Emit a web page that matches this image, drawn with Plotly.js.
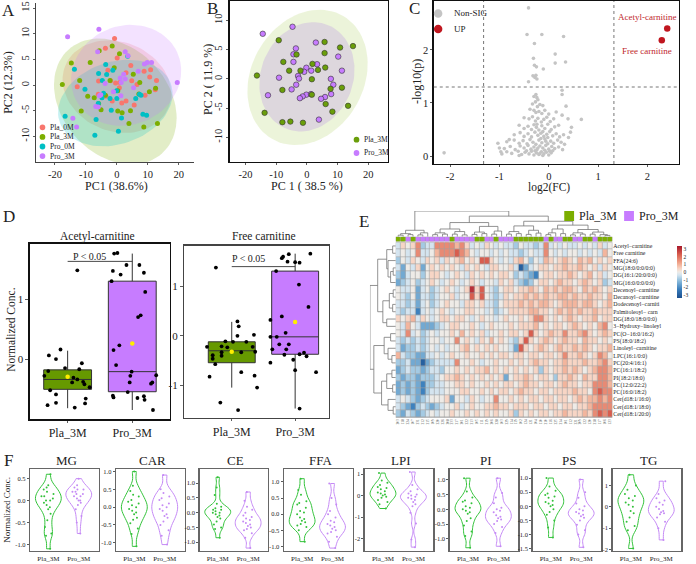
<!DOCTYPE html>
<html><head><meta charset="utf-8">
<script src="https://cdn.plot.ly/plotly-3.0.1.min.js"></script>
<style>html,body{margin:0;padding:0;background:#fff}#chart{width:696px;height:564px}</style>
</head><body><div id="chart"></div>
<script>
// ================= DATA =================
// Panel A: PCA scores (PC1, PC2) per group
const groupsA = ['Pla_0M','Pla_3M','Pro_0M','Pro_3M'];
const pla0M_pc1 = [-0.74,-3.7,0.1,4.5,-2.9,2.96,10.9,8.8,-5.9,-2.0,-0.4,0.95,4.8,6.5,10.6,12.8,-12.8,0.8,-6.0,-3.5,9.1,12.4,1.6,-1.5,5.6,2.96];
const pla0M_pc2 = [9.1,7.2,5.3,3.8,2.9,2.4,3.0,2.7,0.8,0.85,0.4,0.5,0.85,0.1,1.55,0.9,-0.35,-0.5,-1.8,-2.2,-2.0,-0.9,-3.5,-3.1,-3.9,-3.1];
const pla3M_pc1 = [-1.5,-5.7,-14.7,-8.6,-0.85,5.3,-17.6,-12.0,-2.2,7.4,0.3,-9.4,-7.3,-3.7,10.5,12.5,-11.5,-5.1,0.3,1.7,4.4,-5.9,8.7,3.9,13.1,7.1,0.85];
const pla3M_pc2 = [7.6,6.7,4.3,4.4,3.4,2.1,0.1,0.9,0.9,0.5,-1.1,-2.2,-2.45,-2.0,-1.3,-0.6,-5.05,-4.8,-5.05,-5.4,-5.0,-3.6,-8.2,-7.5,-7.5,-1.75,6.1];
const pro0M_pc1 = [3.5,-3.6,-13.7,-5.9,-3.3,-1.3,-4.7,-10.3,-4.3,-4.8,-2.2,0.0,7.3,7.8,6.1,-6.0,-1.8,1.5,-6.7,8.4,9.6,-16.7,0.5,-7.1,-0.1];
const pro0M_pc2 = [5.6,4.0,3.1,2.25,2.05,2.9,0.9,-0.8,-1.6,-2.45,-2.6,-2.6,-1.8,-2.0,-2.6,-3.6,-4.9,-6.4,-6.7,-5.7,-5.9,-6.1,-9.0,-9.8,-1.1];
const pro3M_pc1 = [-5.8,-15.9,-6.2,2.7,3.6,8.9,9.8,11.2,6.9,2.2,-3.8,1.4,2.7,1.1,19.5,-5.6,-5.2,-6.8,-6.0,1.3,-14.2,-13.0,5.4,-1.1];
const pro3M_pc2 = [10.9,9.4,6.5,6.5,5.7,4.1,4.4,4.4,2.7,2.1,0.3,0.5,1.2,1.4,0.5,-2.1,-1.9,-4.2,-4.3,-2.1,-6.45,-8.2,-0.5,-1.3];
// confidence ellipses (centre, semi-axes, tilt in degrees)
const ellA_cx = [0.0,-0.5,-0.5,3.0];
const ellA_cy = [-0.3,-3.2,-3.5,1.9];
const ellA_a  = [17.6,20.2,18.6,17.8];
const ellA_b  = [8.9,11.6,8.2,9.8];
const ellA_ang= [-6,-14,7,4];

// Panel B
const plaB_pc1 = [-9.2,5.75,10.8,15.0,5.75,-3.4,-7.7,1.8,-5.8,-2.1,3.6,5.97,-16.3,1.6,7.7,11.4,-8.0,6.1,13.4,-13.8,8.3,-8.0,-5.4,-1.3,1.6];
const plaB_pc2 = [6.6,6.3,5.35,5.6,4.4,4.16,2.9,2.56,1.4,1.4,1.53,1.93,0.57,-0.06,-1.7,-1.5,-1.9,-4.3,-4.6,-5.8,-5.6,-7.4,-7.3,-7.5,-2.7];
const proB_pc1 = [-14.4,-4.7,2.9,-3.6,-4.4,-4.4,10.2,-0.2,-0.9,3.3,1.4,-2.9,-2.6,-9.1,11.4,7.8,8.6,-3.5,-5.0,7.9,5.9,4.6,-0.2,1.3,-1.4,-2.3,-12.7,3.9];
const proB_pc2 = [7.7,8.9,6.2,5.2,4.2,2.9,3.8,1.9,1.2,2.5,1.4,0.5,0.05,0.2,1.4,0.0,-1.0,-1.0,-1.8,-2.6,-3.1,-3.4,-2.7,-2.6,-3.0,-3.3,-2.8,-6.96];
const ellB_cx = [0.2,0.0];
const ellB_cy = [0.25,0.35];
const ellB_a  = [19.8,15.6];
const ellB_b  = [11.2,9.2];
const ellB_ang= [10,7];

// Panel C: volcano
const nsX = [-0.41,-0.44,-0.14,0.30,-0.29,0.13,-0.31,0.13,0.34,-0.29,
 -0.25,-0.11,-0.32,-0.28,-0.24,-0.41,-0.26,-2.12,0.27,0.27,
 -0.26,-0.24,0.35,0.27,0.39,0.66,0.46,-1.03,-0.97,-0.80,
 -1.00,0.44,0.40,-0.30,-0.22,-0.27,-0.33,-0.18,-0.23,-0.12,
 -0.38,-0.30,-0.26,-0.20,-0.14,-0.08,0.00,0.15,-0.50,-0.40,
 -0.33,-0.27,-0.22,-0.15,-0.10,-0.04,0.03,0.10,-0.60,-0.50,
 -0.42,-0.35,-0.30,-0.25,-0.20,-0.14,-0.08,-0.02,0.05,0.12,
 0.20,-0.70,-0.58,-0.50,-0.42,-0.35,-0.28,-0.22,-0.16,-0.10,
 -0.04,0.02,0.08,0.15,0.22,0.30,-0.85,-0.70,-0.60,-0.52,
 -0.44,-0.38,-0.32,-0.26,-0.20,-0.14,-0.08,-0.02,0.04,0.10,
 0.18,0.25,0.32,-0.90,-0.78,-0.68,-0.58,-0.50,-0.42,-0.36,
 -0.30,-0.24,-0.18,-0.12,-0.06,0.00,0.06,0.12,0.20,0.28,
 -0.95,-0.85,-0.75,-0.62,-0.55,-0.48,-0.40,-0.35,-0.30,-0.25,
 -0.20,-0.15,-0.10,-0.05,0.00,0.05,0.08,-0.60,-0.45,-0.28,
 -0.12,0.02,-0.18,-0.08,-0.22,-0.16,-0.06,-0.12,-0.02,-0.24];
const nsY = [2.79,2.29,2.29,2.25,2.12,1.92,1.84,1.75,1.77,1.71,
 1.68,1.64,1.51,1.48,1.45,1.40,1.52,0.06,1.24,1.16,
 1.16,1.10,0.94,0.77,0.70,0.69,0.54,0.24,0.08,0.31,
 0.15,0.45,0.35,1.12,1.06,1.02,0.98,0.97,0.93,0.95,
 0.88,0.86,0.82,0.84,0.80,0.86,0.79,0.83,0.72,0.70,
 0.74,0.66,0.71,0.64,0.69,0.73,0.65,0.70,0.58,0.52,
 0.56,0.50,0.59,0.54,0.49,0.57,0.52,0.60,0.50,0.55,
 0.58,0.40,0.44,0.37,0.42,0.36,0.45,0.39,0.43,0.37,
 0.41,0.46,0.38,0.42,0.36,0.40,0.27,0.30,0.24,0.29,
 0.23,0.31,0.26,0.22,0.30,0.25,0.32,0.23,0.28,0.24,
 0.30,0.26,0.22,0.14,0.18,0.12,0.19,0.15,0.20,0.13,
 0.17,0.12,0.19,0.15,0.20,0.13,0.18,0.14,0.17,0.12,
 0.04,0.08,0.05,0.09,0.03,0.07,0.04,0.09,0.02,0.06,
 0.03,0.08,0.04,0.07,0.02,0.06,0.10,0.01,0.10,0.10,
 0.01,0.09,0.05,0.11,0.15,0.33,0.28,0.46,0.35,0.60];
const upNames = ['Acetyl-carnitine','Free carnitine'];
const upX = [2.40,2.29];
const upY = [2.40,2.18];
const fcCut = 1.32, pCut = 1.30;

// Panel D: boxplots
const boxGroups = ['Pla_3M','Pro_3M'];
const acQ1 = [-0.505,-0.545], acMed = [-0.34,-0.21], acQ3 = [-0.18,1.30], acLo = [-0.82,-0.85], acHi = [0.14,1.76], acMean = [-0.295,0.26];
const fcQ1 = [-0.54,-0.37], fcMed = [-0.30,-0.02], fcQ3 = [-0.12,1.30], fcLo = [-1.04,-1.46], fcHi = [0.28,1.65], fcMean = [-0.32,0.28];
const acPlaY = [1.48,0.16,0.06,0.0,-0.07,-0.17,-0.28,-0.2,-0.31,-0.34,-0.39,-0.38,-0.47,-0.52,-0.59,-0.77,-0.73,-0.81,-0.66,-0.74,-0.42,-0.15];
const acPlaJit = [0.15,-0.11,-0.29,-0.18,0.22,0.18,-0.36,-0.30,0.09,0.15,0.07,0.24,0.34,-0.27,-0.18,-0.31,-0.18,0.11,0.28,0.27,0.26,-0.04];
const acProY = [1.76,1.77,1.57,1.57,1.47,1.41,1.44,1.3,1.12,0.73,0.70,0.23,0.15,-0.1,-0.21,-0.28,-0.27,-0.39,-0.39,-0.41,-0.55,-0.61,-0.64,-0.65,-0.62,-0.68,-0.85];
const acProJit = [-0.28,-0.23,-0.09,0.11,-0.30,-0.18,0.18,-0.32,0.2,0.13,0.09,-0.20,-0.29,-0.25,-0.01,-0.03,0.37,-0.04,0.31,0.29,-0.07,-0.30,-0.29,0.08,0.18,0.19,0.32];
const fcPlaY = [1.37,0.29,0.19,0.0,0.02,-0.22,-0.21,-0.11,-0.12,-0.23,-0.12,-0.33,-0.33,-0.39,-0.4,-0.46,-0.57,-0.32,-0.82,-0.73,-0.8,-1.04,-1.34,-1.49,-0.22];
const fcPlaJit = [-0.25,0.09,0.11,0.09,0.35,-0.39,-0.16,-0.1,0.23,-0.07,0.02,0.15,-0.16,-0.3,-0.16,-0.30,-0.26,0.37,-0.35,0.15,0.36,0.40,-0.18,0.10,0.33];
const fcProY = [1.56,1.59,1.64,1.49,1.48,1.47,1.65,1.3,1.03,0.58,0.32,0.39,0.06,-0.02,-0.02,-0.17,-0.17,-0.27,-0.27,-0.38,-0.37,-0.34,-0.41,-0.48,-0.54,-0.69,-0.73,-1.46];
const fcProJit = [-0.21,-0.19,-0.1,-0.12,0,0.07,0.24,-0.3,0.06,0.21,-0.39,-0.21,-0.15,-0.39,-0.29,-0.25,-0.1,-0.36,-0.14,-0.17,0.07,0.14,0.18,-0.03,-0.39,0,0.33,0.07];
const acBracket = 1.63, fcBracket = 1.39;

// Panel E: heatmap
const rowNames = ['Acetyl−carnitine','Free carnitine','FFA(24:6)','MG(18:0/0:0/0:0)','DG(16:1/20:0/0:0)','MG(16:0/0:0/0:0)',
 'Decenoyl−carnitine','Decanoyl−carnitine','Dodecenoyl−carniti','Palmitoleoyl− carn','DG(18:0/18:0/0:0)','3−Hydroxy−linoleyl',
 'PC(O−16:0/16:2)','PS(18:0/18:2)','Linoleyl−carnitine','LPC(16:1/0:0)','PC(20:4/16:1)','PC(16:1/18:2)',
 'PI(18:2/18:0)','PC(12:0/22:2)','PC(16:0/18:2)','Cer(d18:1/16:0)','Cer(d18:1/18:0)','Cer(d18:1/20:0)'];
const colIds = ['203','118','224','107','231','212','215','109','220','226','208','233','217','201','222','213','105','111','219','206','228','103','229','114','119','102','124','121','104','110','210','116','225','214','101','112','221','209','122','120','218','117','106','123'];
const colGroup = 'GGPGPPPPPPPGPPPPGGPPGPPPGGGGGGPGPPGGPPGGPGGG';
const levelValue = {'0':-3,'1':-2.2,'2':-1.5,'3':-0.9,'4':-0.4,'5':0,'6':0.45,'7':0.95,'8':1.6,'9':2.3,'A':3};
const heatRows = [
 '46568344888 87864546545 44354434845 45445454645',
 '45458445788 89875455454 54434544854 54554545475',
 '35465465646 56756599654 54675354765 67657675656',
 '42546256565 65465654665 56402456656 67667656465',
 '32455356654 56546565656 65343215665 66765675645',
 '23453456545 65456545546 56432356656 76656765634',
 '54452453456 5456A695435 66566765767 67765767656',
 '54352443455 64559695434 65667676766 77676676657',
 '44342453456 55466564435 66676767765 67776776567',
 '43441454565 45566554534 56666776656 76767667666',
 '65674654566 56654565545 65565688656 56765667566',
 '54754222345 66556545655 56566675656 65676565785',
 '54845345455 65756564556 56656965676 68667865676',
 '43434345545 58565465756 54369656765 67665766565',
 '42334345454 55675656565 54296567656 76676765667',
 '74332244545 65565565656 65665665665 68667656875',
 '33422023444 48556545565 56565676656 67666766786',
 '23433234435 56565667565 65656563656 67676567887',
 '32332333456 67656565656 25667656653 66765766887',
 '23232133445 56656556565 66567665665 67665668887',
 '23232134445 55665565656 65676656656 66676658988',
 '45432345556 25546545585 56565665665 66567677878',
 '43213432345 56456556676 65666566566 56656678888',
 '32432345455 65565656565 56365656656 67666768989'];
// dendrograms: [height, left, right], leaves are column / row indices
const colTree = [1.0,
  [0.25,[0.12,[0.06,0,1],[0.08,2,3]],[0.15,[0.07,4,5],6]],
  [0.8,
    [0.55,[0.3,[0.15,[0.08,7,8],[0.1,9,10]],[0.2,[0.1,11,12],[0.07,13,14]]],
          [0.4,[0.18,[0.09,15,16],[0.12,17,18]],[0.22,[0.1,19,20],21]]],
    [0.6,[0.42,[0.2,[0.1,22,23],[0.12,24,25]],[0.25,[0.09,26,27],[0.14,28,29]]],
         [0.45,[0.3,[0.15,[0.08,30,31],32],[0.12,33,34]],
               [0.28,[0.15,[0.07,35,36],[0.1,37,38]],[0.18,[0.1,39,40],[0.08,41,[0.05,42,43]]]]]]]];
const rowTree = [1.0,
  [0.7,[0.35,[0.12,0,1],[0.3,2,[0.2,[0.1,3,4],5]]],[0.5,[0.25,[0.1,6,7],[0.12,8,9]],[0.35,10,11]]],
  [0.85,[0.45,[0.2,12,13],[0.3,14,[0.15,15,16]]],[0.55,[0.35,[0.15,17,18],[0.12,19,20]],[0.3,21,[0.1,22,23]]]]];

// Panel F: violins
const classes = ['MG','CAR','CE','FFA','LPI','PI','PS','TG'];
const mgPla = [0.6,0.35,0.3,0.25,0.2,0.15,0.1,0.1,0.05,0.0,0.0,-0.05,-0.1,-0.15,-0.2,-0.3,-0.45,-0.6,-0.75,-0.8,-1.1];
const mgPro = [0.5,0.35,0.3,0.25,0.25,0.2,0.2,0.15,0.15,0.1,0.1,0.05,0.0,0.0,-0.05,-0.1,-0.2,-0.35,-0.5,-0.75];
const carPla = [1.0,0.6,0.45,0.35,0.3,0.2,0.15,0.1,0.05,0.0,-0.05,-0.1,-0.15,-0.2,-0.3,-0.35,-0.45,-0.6,-0.75,-1.1];
const carPro = [0.9,0.5,0.4,0.3,0.25,0.2,0.1,0.05,0.0,-0.05,-0.1,-0.2,-0.25,-0.3,-0.4,-0.5,-0.65,-0.8,-1.05];
const cePla = [1.2,0.85,0.6,0.3,0.2,0.15,0.1,0.1,0.05,0.0,0.0,-0.05,-0.1,-0.15,-0.2,-0.3,-0.4,-0.5,-0.55,-0.85];
const cePro = [0.7,0.4,0.2,0.1,0.0,-0.1,-0.15,-0.2,-0.25,-0.3,-0.35,-0.4,-0.45,-0.5,-0.55,-0.6,-0.7,-0.85,-1.2];
const ffaPla = [1.1,0.75,0.6,0.4,0.35,0.3,0.2,0.1,0.05,0.0,-0.1,-0.15,-0.2,-0.25,-0.3,-0.35,-0.4,-0.5,-0.85];
const ffaPro = [0.95,0.5,0.3,0.1,0.0,-0.1,-0.2,-0.25,-0.3,-0.35,-0.4,-0.45,-0.5,-0.55,-0.6,-0.7,-0.85,-1.05];
const lpiPla = [1.05,0.7,0.6,0.5,0.4,0.35,0.3,0.2,0.15,0.1,0.05,0.0,-0.05,-0.1,-0.2,-0.3,-0.4,-0.6];
const lpiPro = [1.1,0.5,0.3,0.2,0.1,0.05,0.0,-0.05,-0.1,-0.15,-0.2,-0.3,-0.4,-0.5,-0.8,-1.3,-2.05,-2.4];
const piPla = [1.05,0.6,0.4,0.3,0.25,0.2,0.1,0.05,0.0,-0.05,-0.1,-0.15,-0.3,-0.4,-0.55,-0.75,-0.9,-1.3];
const piPro = [1.05,0.55,0.4,0.2,0.05,0.0,-0.05,-0.1,-0.2,-0.25,-0.3,-0.35,-0.4,-0.5,-0.6,-0.8,-1.25];
const psPla = [1.0,0.7,0.55,0.45,0.4,0.35,0.3,0.2,0.15,0.1,0.05,0.0,-0.1,-0.2,-0.3,-0.5,-0.75,-1.1];
const psPro = [0.95,0.5,0.3,0.1,0.0,-0.1,-0.15,-0.2,-0.25,-0.3,-0.35,-0.4,-0.5,-0.65,-0.85,-1.0,-1.45];
const tgPla = [1.5,1.0,0.8,0.6,0.5,0.4,0.3,0.2,0.1,0.0,-0.2,-0.3,-0.5,-0.7,-0.9,-1.1,-1.95];
const tgPro = [1.2,0.6,0.4,0.3,0.2,0.1,0.0,-0.1,-0.2,-0.25,-0.3,-0.35,-0.5,-0.7,-1.0,-1.55];
const vPla = [mgPla,carPla,cePla,ffaPla,lpiPla,piPla,psPla,tgPla];
const vPro = [mgPro,carPro,cePro,ffaPro,lpiPro,piPro,psPro,tgPro];
const vRange = [[-1.15,0.72],[-1.23,1.07],[-1.3,1.48],[-1.14,1.40],[-2.58,1.24],[-1.41,1.36],[-1.58,1.32],[-2.07,1.77]];
const vTicks = [[-1,-0.5,0,0.5],[-1,-0.5,0,0.5,1],[-1,-0.5,0,0.5,1],[-1,-0.5,0,0.5,1],[-2,-1,0,1],[-1,-0.5,0,0.5,1],[-1.5,-1,-0.5,0,0.5,1],[-2,-1,0,1]];
const vDec = [1,1,1,1,0,1,1,0];
const vBw = [0.12,0.15,0.13,0.15,0.18,0.15,0.15,0.25];

// ================= DRAWING =================
const FONT = 'Liberation Serif, Times New Roman, serif';
const W = 696, H = 564;
const dx = (a,b) => [a/W, b/W];
const dy = (a,b) => [1-b/H, 1-a/H];
const tt = (vals, dec) => vals.map(v => (v<0?'-':'') + Math.abs(v).toFixed(dec));

const COL = {pla0:'#f8766d', pla3:'#7cae00', pro0:'#00bfc4', pro3:'#c77cff'};
const traces = [];
const layout = {width:W, height:H, margin:{l:0,r:0,t:0,b:0}, paper_bgcolor:'#fff', plot_bgcolor:'#fff',
  showlegend:false, font:{family:FONT, color:'#222'}, boxmode:'overlay', violinmode:'overlay',
  annotations:[], shapes:[]};

function ax(domain, range, extra){
  return Object.assign({domain, range, showgrid:false, zeroline:false, ticks:'outside', ticklen:3, tickwidth:0.8,
    tickcolor:'#333', showline:true, linecolor:'#222', linewidth:1, fixedrange:true,
    tickfont:{family:FONT, size:10.5, color:'#222'}}, extra);
}
function ann(text, x, y, size, extra){
  layout.annotations.push(Object.assign({text, x:x/W, y:1-y/H, xref:'paper', yref:'paper', showarrow:false,
    xanchor:'center', yanchor:'middle', font:{family:FONT, size:size, color:'#222'}}, extra||{}));
}
function ellipse(cx, cy, a, b, ang){
  const xs=[], ys=[], th=ang*Math.PI/180;
  for(let i=0;i<=90;i++){ const t=i/90*2*Math.PI;
    xs.push(cx + a*Math.cos(t)*Math.cos(th) - b*Math.sin(t)*Math.sin(th));
    ys.push(cy + a*Math.cos(t)*Math.sin(th) + b*Math.sin(t)*Math.cos(th)); }
  return [xs, ys];
}
function pcircle(cxp, cyp, r, color, line){
  layout.shapes.push({type:'circle', xref:'paper', yref:'paper', x0:(cxp-r)/W, x1:(cxp+r)/W, y0:1-(cyp+r)/H, y1:1-(cyp-r)/H,
    fillcolor:color, line:line||{width:0}});
}

// ---- Panel A ----
const fillA = ['rgba(248,118,109,0.22)','rgba(124,174,0,0.22)','rgba(0,191,196,0.22)','rgba(199,124,255,0.22)'];
const colA = [COL.pla0, COL.pla3, COL.pro0, COL.pro3];
const ptsA = [[pla0M_pc1,pla0M_pc2],[pla3M_pc1,pla3M_pc2],[pro0M_pc1,pro0M_pc2],[pro3M_pc1,pro3M_pc2]];
for(let i=0;i<4;i++){
  const [ex,ey] = ellipse(ellA_cx[i], ellA_cy[i], ellA_a[i], ellA_b[i], ellA_ang[i]);
  traces.push({type:'scatter', mode:'lines', x:ex, y:ey, fill:'toself', fillcolor:fillA[i], line:{width:0}, xaxis:'x', yaxis:'y', hoverinfo:'skip'});
}
for(let i=0;i<4;i++){
  traces.push({type:'scatter', mode:'markers', x:ptsA[i][0], y:ptsA[i][1], marker:{size:5, color:colA[i]}, xaxis:'x', yaxis:'y', name:groupsA[i]});
}
layout.xaxis = ax(dx(37,198), [-26,25], {anchor:'y', linecolor:'#444', ticklen:2, tickvals:[-20,-10,0,10,20], ticktext:tt([-20,-10,0,10,20],0)});
layout.yaxis = ax(dy(3,162), [-15,16], {anchor:'x', linecolor:'#444', ticklen:2, tickvals:[-10,-5,0,5,10,15], ticktext:tt([-10,-5,0,5,10,15],0), tickangle:-90});
for(let i=0;i<4;i++){
  pcircle(43.3, 127.3+9.6*i, 2.9, colA[i]);
  ann(groupsA[i], 48.5, 127.3+9.6*i, 7.5, {xanchor:'left'});
}
ann('A', 9, 11, 17);
ann('PC1 (38.6%)', 119, 186, 12);
ann('PC2 (12.3%)', 8, 82, 12, {textangle:-90});

// ---- Panel B ----
const fillB = ['rgba(195,222,140,0.32)','rgba(205,180,225,0.45)'];
for(let i=0;i<2;i++){
  const [ex,ey] = ellipse(ellB_cx[i], ellB_cy[i], ellB_a[i], ellB_b[i], ellB_ang[i]);
  traces.push({type:'scatter', mode:'lines', x:ex, y:ey, fill:'toself', fillcolor:fillB[i], line:{width:0}, xaxis:'x2', yaxis:'y2', hoverinfo:'skip'});
}
traces.push({type:'scatter', mode:'markers', x:proB_pc1, y:proB_pc2, marker:{size:5.5, color:COL.pro3, line:{color:'#333', width:0.6}}, xaxis:'x2', yaxis:'y2'});
traces.push({type:'scatter', mode:'markers', x:plaB_pc1, y:plaB_pc2, marker:{size:5.5, color:'#6a9e0a', line:{color:'#333', width:0.6}}, xaxis:'x2', yaxis:'y2'});
layout.xaxis2 = ax(dx(234,395), [-25.2,26.3], {anchor:'y2', mirror:true, linewidth:1.3, linecolor:'#111', ticklen:2, tickvals:[-20,-10,0,10,20], ticktext:tt([-20,-10,0,10,20],0)});
layout.yaxis2 = ax(dy(1,162), [-14.2,13.3], {anchor:'x2', mirror:true, linewidth:1.3, linecolor:'#111', ticklen:2, tickvals:[-10,-5,0,5,10], ticktext:tt([-10,-5,0,5,10],0), tickangle:-90});
pcircle(363.3, 139.7, 2.9, '#6a9e0a');
pcircle(363.3, 153, 2.9, COL.pro3);
ann('Pla_3M', 368.5, 139.7, 7.5, {xanchor:'left'});
ann('Pro_3M', 368.5, 153, 7.5, {xanchor:'left'});
ann('B', 217, 9, 17);
ann('PC 1 ( 38.5 %)', 313, 186, 12);
ann('PC 2 ( 11.9 %)', 212, 80, 12, {textangle:-90});

// ---- Panel C ----
traces.push({type:'scatter', mode:'markers', x:nsX, y:nsY, marker:{size:3.6, color:'#c4c4c4'}, xaxis:'x3', yaxis:'y3'});
traces.push({type:'scatter', mode:'markers', x:upX, y:upY, marker:{size:6.5, color:'#c0161f'}, xaxis:'x3', yaxis:'y3'});
layout.xaxis3 = ax(dx(442,692), [-2.33,2.64], {anchor:'y3', mirror:true, linewidth:1.3, linecolor:'#111', ticklen:2, tickvals:[-2,-1,0,1,2], ticktext:tt([-2,-1,0,1,2],0)});
layout.yaxis3 = ax(dy(1,164), [-0.15,2.92], {anchor:'x3', mirror:true, linewidth:1.3, linecolor:'#111', ticklen:2, tickvals:[0,1,2], ticktext:['0','1','2']});
[-fcCut, fcCut].forEach(v => layout.shapes.push({type:'line', xref:'x3', yref:'y3 domain', x0:v, x1:v, y0:0, y1:1, line:{color:'#666', width:0.9, dash:'dot'}}));
layout.shapes.push({type:'line', xref:'x3 domain', yref:'y3', x0:0, x1:1, y0:pCut, y1:pCut, line:{color:'#666', width:0.9, dash:'dot'}});
pcircle(446.5, 13.5, 4.3, '#c4c4c4');
pcircle(446.5, 29, 4.3, '#c0161f');
ann('Non-SIG', 461, 13.5, 9, {xanchor:'left'});
ann('UP', 461, 29, 9, {xanchor:'left'});
ann(upNames[0], 691, 17, 9, {xanchor:'right', font:{family:FONT, size:9, color:'#c0272d'}});
ann(upNames[1], 687, 50.5, 9, {xanchor:'right', font:{family:FONT, size:9, color:'#c0272d'}});
ann('C', 422, 8, 17);
ann('log2(FC)', 559, 187.5, 11.5);
ann('-log10(p)', 425, 82, 12, {textangle:-90});

// ---- Panel D ----
function boxPanel(xa, ya, q1, med, q3, lo, hi, mean, plaY, plaJ, proY, proJ){
  const fills = ['#669900', '#c77cff'];
  for(let g=0; g<2; g++){
    traces.push({type:'box', x:[g], q1:[q1[g]], median:[med[g]], q3:[q3[g]], lowerfence:[lo[g]], upperfence:[hi[g]],
      width:0.74, fillcolor:fills[g], line:{color:'#333', width:1}, whiskerwidth:0, boxpoints:false,
      xaxis:xa, yaxis:ya, hoverinfo:'skip', name:boxGroups[g]});
  }
  traces.push({type:'scatter', mode:'markers', x:plaJ.map(j=>0+j), y:plaY, marker:{size:3.8, color:'#000'}, xaxis:xa, yaxis:ya});
  traces.push({type:'scatter', mode:'markers', x:proJ.map(j=>1+j), y:proY, marker:{size:3.8, color:'#000'}, xaxis:xa, yaxis:ya});
  traces.push({type:'scatter', mode:'markers', x:[0,1], y:mean, marker:{size:4.5, color:'#ffee00'}, xaxis:xa, yaxis:ya});
}
boxPanel('x4','y4', acQ1, acMed, acQ3, acLo, acHi, acMean, acPlaY, acPlaJit, acProY, acProJit);
boxPanel('x5','y5', fcQ1, fcMed, fcQ3, fcLo, fcHi, fcMean, fcPlaY, fcPlaJit, fcProY, fcProJit);
layout.xaxis4 = ax(dx(30.7,173), [-0.58,1.58], {anchor:'y4', mirror:true, linewidth:1.7, linecolor:'#111', ticklen:2, tickvals:[0,1], ticktext:boxGroups, tickfont:{family:FONT,size:12,color:'#222'}});
layout.yaxis4 = ax(dy(244,419), [-1.0,1.92], {anchor:'x4', mirror:true, linewidth:1.7, linecolor:'#111', tickvals:[0,1], ticktext:['0','1'], tickfont:{family:FONT,size:11,color:'#222'}});
layout.xaxis5 = ax(dx(187.7,335), [-0.75,1.53], {anchor:'y5', mirror:true, linewidth:1.3, linecolor:'#444', ticklen:2, tickvals:[0,1], ticktext:boxGroups, tickfont:{family:FONT,size:12,color:'#222'}});
layout.yaxis5 = ax(dy(245.7,418), [-1.65,1.81], {anchor:'x5', mirror:true, linewidth:1.3, linecolor:'#444', tickvals:[-1,0,1], ticktext:['-1','0','1'], tickfont:{family:FONT,size:11,color:'#222'}});
layout.shapes.push({type:'line', xref:'x4', yref:'y4', x0:0, x1:1, y0:acBracket, y1:acBracket, line:{color:'#333', width:0.9}});
layout.shapes.push({type:'line', xref:'x5', yref:'y5', x0:0, x1:1, y0:fcBracket, y1:fcBracket, line:{color:'#333', width:0.9}});
ann('P &lt; 0.05', 91, 256, 10);
ann('P &lt; 0.05', 253, 258.5, 10);
ann('Acetyl-carnitine', 99, 236, 11.5);
ann('Free carnitine', 269, 236, 11.5);
ann('Normalized Conc.', 11, 330, 11.5, {textangle:-90});
ann('D', 9, 217, 17);

// ---- Panel E ----
const zHeat = heatRows.map(r => r.replace(/ /g,'').split('').map(c => levelValue[c]));
const colIdx = colIds.map((_,i)=>i), rowIdx = rowNames.map((_,i)=>i);
layout.shapes.push({type:'rect', xref:'x6 domain', yref:'y6 domain', x0:0, x1:1, y0:0, y1:1, fillcolor:'#a0a0a0', line:{width:0}, layer:'below'});
layout.shapes.push({type:'rect', xref:'x7 domain', yref:'y7 domain', x0:0, x1:1, y0:0, y1:1, fillcolor:'#a0a0a0', line:{width:0}, layer:'below'});
traces.push({type:'heatmap', z:zHeat, x:colIdx, y:rowIdx, zmin:-3.4, zmax:3.4, xgap:0.6, ygap:0.6, xaxis:'x6', yaxis:'y6', hoverinfo:'skip',
  colorscale:[[0,'#1b4f8f'],[0.17,'#3a7fbd'],[0.33,'#8cbcdc'],[0.44,'#d3e4ef'],[0.5,'#eeebe7'],[0.57,'#f7d4c3'],[0.67,'#f1a78d'],[0.83,'#da6150'],[1,'#a8182b']],
  colorbar:{x:679.3/W, xanchor:'left', y:1-272/H, yanchor:'middle', len:72/H, lenmode:'fraction', thickness:5, outlinewidth:0,
    tickvals:[-3,-2,-1,0,1,2,3], ticktext:['-3','-2','-1','0','1','2','3'], ticks:'', tickfont:{family:FONT,size:5.5,color:'#222'}}});
traces.push({type:'heatmap', z:[colGroup.split('').map(c => c==='G'?0:1)], x:colIdx, y:[0], zmin:0, zmax:1, xgap:0.6, showscale:false,
  colorscale:[[0,'#7cae00'],[0.5,'#7cae00'],[0.5,'#c77cff'],[1,'#c77cff']], xaxis:'x7', yaxis:'y7', hoverinfo:'skip'});
function dend(node, segX, segY, horiz){
  if(typeof node === 'number') return {pos:node, h:0};
  const l = dend(node[1], segX, segY, horiz), r = dend(node[2], segX, segY, horiz), h = node[0];
  const ps = [[l.pos,l.h],[l.pos,h],[r.pos,h],[r.pos,r.h]];
  ps.forEach(p => { if(horiz){ segX.push(p[0]); segY.push(p[1]); } else { segX.push(p[1]); segY.push(p[0]); } });
  segX.push(null); segY.push(null);
  return {pos:(l.pos+r.pos)/2, h};
}
const tdx=[], tdy=[]; dend(colTree, tdx, tdy, true);
const ldx=[], ldy=[]; dend(rowTree, ldx, ldy, false);
traces.push({type:'scatter', mode:'lines', x:tdx, y:tdy, line:{color:'#777', width:0.8}, xaxis:'x8', yaxis:'y8', hoverinfo:'skip'});
traces.push({type:'scatter', mode:'lines', x:ldx, y:ldy, line:{color:'#777', width:0.8}, xaxis:'x9', yaxis:'y9', hoverinfo:'skip'});
const hidden = {visible:false, showgrid:false, zeroline:false, fixedrange:true};
layout.xaxis6 = {domain:dx(403.3,624), range:[-0.5,43.5], anchor:'y6', showgrid:false, zeroline:false, showline:false, ticks:'', fixedrange:true,
  tickvals:colIdx, ticktext:colIds, tickangle:-90, tickfont:{family:FONT, size:3.4, color:'#444'}};
layout.yaxis6 = {domain:dy(242.3,417.7), range:[23.5,-0.5], anchor:'x6', side:'right', showgrid:false, zeroline:false, showline:false, ticks:'', fixedrange:true,
  tickvals:rowIdx, ticktext:rowNames, tickfont:{family:FONT, size:5.8, color:'#222'}};
layout.xaxis7 = Object.assign({domain:dx(403.3,624), range:[-0.5,43.5], anchor:'y7'}, hidden);
layout.yaxis7 = Object.assign({domain:dy(236.7,241.6), range:[-0.5,0.5], anchor:'x7'}, hidden);
layout.xaxis8 = Object.assign({domain:dx(403.3,624), range:[-0.5,43.5], anchor:'y8'}, hidden);
layout.yaxis8 = Object.assign({domain:dy(211,236.7), range:[0,1.0], anchor:'x8'}, hidden);
layout.xaxis9 = Object.assign({domain:dx(377,403.3), range:[1.0,0], anchor:'y9'}, hidden);
layout.yaxis9 = Object.assign({domain:dy(242.3,417.7), range:[23.5,-0.5], anchor:'x9'}, hidden);
layout.shapes.push({type:'rect', xref:'paper', yref:'paper', x0:575/W, x1:585/W, y0:1-221/H, y1:1-211/H, fillcolor:'#7cae00', line:{width:0}});
layout.shapes.push({type:'rect', xref:'paper', yref:'paper', x0:636/W, x1:646/W, y0:1-221/H, y1:1-211/H, fillcolor:'#c77cff', line:{width:0}});
ann('Pla_3M', 588, 216, 12, {xanchor:'left'});
ann('Pro_3M', 649, 216, 12, {xanchor:'left'});
ann('E', 371, 221, 17);

// ---- Panel F ----
const fLeft = [30.7,118.3,203.3,289.3,371.7,458.3,542.7,624.3];
for(let k=0;k<8;k++){
  const n = 10+k, xa='x'+n, ya='y'+n;
  const common = {type:'violin', spanmode:'hard', bandwidth:vBw[k], width:0.85, points:'all', jitter:0.55, pointpos:0,
    box:{visible:false}, meanline:{visible:false}, fillcolor:'rgba(255,255,255,0)', xaxis:xa, yaxis:ya, hoverinfo:'skip', scalemode:'width'};
  traces.push(Object.assign({}, common, {x0:0, y:vPla[k], name:'Pla_3M', line:{color:'#33c23a', width:1}, marker:{size:2, color:'#33c23a'}}));
  traces.push(Object.assign({}, common, {x0:1, y:vPro[k], name:'Pro_3M', line:{color:'#c58af5', width:1}, marker:{size:2, color:'#c58af5'}}));
  layout['xaxis'+n] = ax(dx(fLeft[k], fLeft[k]+70), [-0.6,1.66], {anchor:ya, type:'linear', mirror:true, linewidth:1.3, linecolor:'#666', ticks:'',
    tickvals:[0,1], ticktext:boxGroups, tickfont:{family:FONT, size:7, color:'#222'}});
  layout['yaxis'+n] = ax(dy(469,551), vRange[k], {anchor:xa, mirror:true, linewidth:1.3, linecolor:'#666', ticklen:2,
    tickvals:vTicks[k], ticktext:tt(vTicks[k], vDec[k]), tickfont:{family:FONT, size:6.5, color:'#222'}});
  ann(classes[k], fLeft[k]+37, 460, 13);
}
ann('Normalized Conc.', 7, 510, 9, {textangle:-90});
ann('F', 9, 460, 17);

Plotly.newPlot('chart', traces, layout, {staticPlot:true, displayModeBar:false});
</script>
</body></html>
